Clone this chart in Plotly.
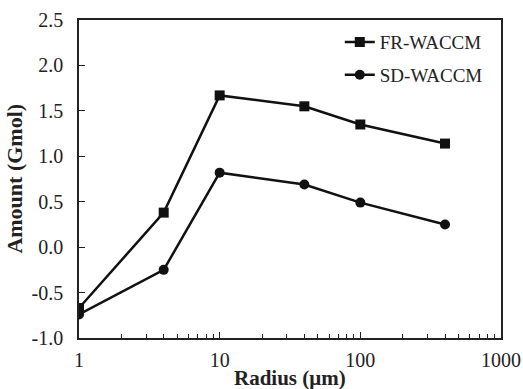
import plotly.graph_objects as go

radius = [1, 4, 10, 40, 100, 400]
fr_waccm = [-0.67, 0.38, 1.67, 1.55, 1.35, 1.14]
sd_waccm = [-0.74, -0.25, 0.82, 0.69, 0.49, 0.25]
y_ticks = [-1.0, -0.5, 0.0, 0.5, 1.0, 1.5, 2.0, 2.5]

fig = go.Figure()
fig.add_trace(go.Scatter(x=radius, y=fr_waccm, name="FR-WACCM", mode="lines+markers",
                         legendgroup="a",
                         line=dict(color="#111111", width=2.5),
                         marker=dict(symbol="square", size=10, color="#111111")))
fig.add_trace(go.Scatter(x=radius, y=sd_waccm, name="SD-WACCM", mode="lines+markers",
                         legendgroup="b",
                         line=dict(color="#111111", width=2.5),
                         marker=dict(symbol="circle", size=10, color="#111111")))

serif = "Liberation Serif, Times New Roman, serif"
fig.update_layout(
    width=523, height=389,
    margin=dict(l=79, r=22, t=20, b=51, autoexpand=False),
    paper_bgcolor="white", plot_bgcolor="white",
    font=dict(family=serif, size=20, color="#222222"),
    showlegend=True,
    legend=dict(x=0.618, y=0.99, xanchor="left", yanchor="top",
                bgcolor="rgba(0,0,0,0)", font=dict(size=19), tracegroupgap=5,
                itemwidth=30),
    xaxis=dict(type="log", range=[0, 3], showgrid=False, zeroline=False,
               showline=True, linecolor="#222222", linewidth=1.5, mirror=True,
               automargin=False,
               ticks="inside", ticklen=6, tickcolor="#222222",
               ticklabelstandoff=3,
               tickvals=[1, 10, 100, 1000], ticktext=["1", "10", "100", "1000"],
               tickfont=dict(size=20),
               minor=dict(ticks="inside", ticklen=4, tickcolor="#222222",
                          tickvals=[2, 3, 4, 5, 6, 7, 8, 9, 20, 30, 40, 50, 60, 70, 80, 90,
                                    200, 300, 400, 500, 600, 700, 800, 900])),
    yaxis=dict(range=[-1.0, 2.5], showgrid=False, zeroline=False,
               showline=True, linecolor="#222222", linewidth=1.5, mirror=True,
               automargin=False,
               ticks="inside", ticklen=6, tickcolor="#222222",
               ticklabelstandoff=10,
               tickvals=y_ticks, ticktext=[f"{v:.1f}" for v in y_ticks],
               tickfont=dict(size=20)),
    annotations=[
        dict(text="<b>Radius (μm)</b>", xref="paper", yref="paper",
             x=0.5, y=-0.125, xanchor="center", yanchor="middle",
             showarrow=False, font=dict(size=21)),
        dict(text="<b>Amount (Gmol)</b>", xref="paper", yref="paper",
             x=-0.155, y=0.5, xanchor="center", yanchor="middle", textangle=-90,
             showarrow=False, font=dict(size=22)),
    ],
)
fig.write_html("out.html")
